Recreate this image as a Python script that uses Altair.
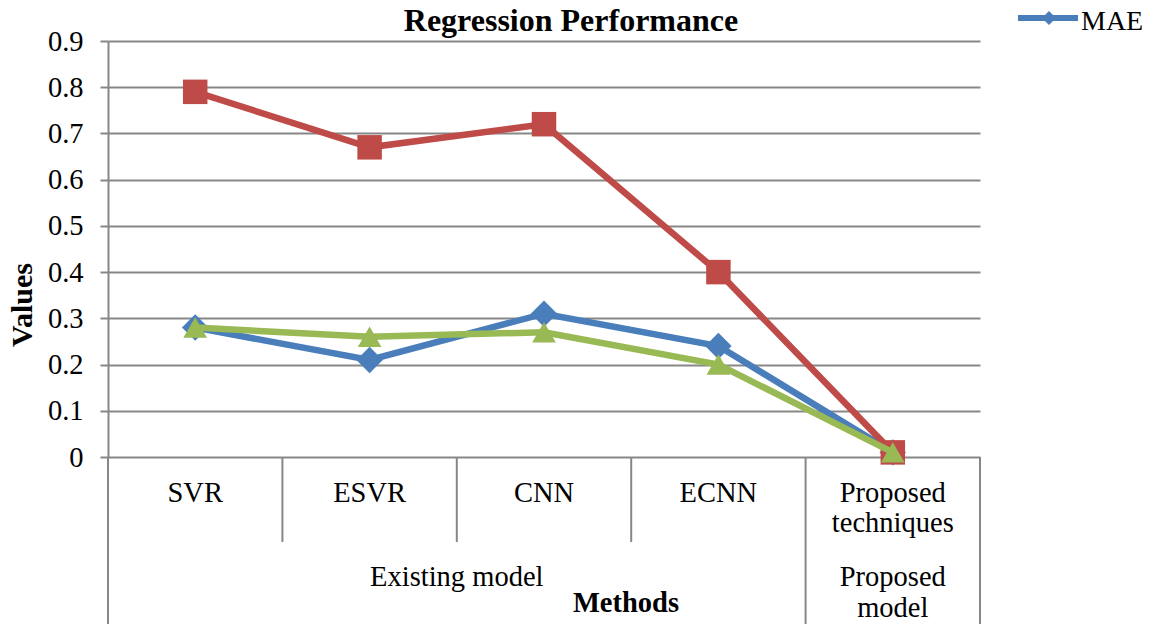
import altair as alt
import pandas as pd

# ---- data ----
methods = ["SVR", "ESVR", "CNN", "ECNN", "Proposed\ntechniques"]
groups = ["Existing model", "Proposed\nmodel"]
group_first = [0, 4]
group_last = [3, 4]
series_names = ["MAE", "RMSE", "MSE"]
mae = [0.28, 0.21, 0.31, 0.24, 0.01]
rmse = [0.79, 0.67, 0.72, 0.40, 0.01]
mse = [0.28, 0.26, 0.27, 0.20, 0.01]
y_ticks = [0, 0.1, 0.2, 0.3, 0.4, 0.5, 0.6, 0.7, 0.8, 0.9]
title_text = "Regression Performance"
x_title = "Methods"
y_title = "Values"

# ---- styling ----
colors = ["#4A7EBB", "#BE4B48", "#98B954"]
shapes = ["diamond", "square", "triangle-up"]
sizes = [700, 600, 560]
FONT = "Liberation Serif"
FS = 28.5
GRID = "#878787"
W, H = 872, 416

rows = []
for s, vals in zip(series_names, [mae, rmse, mse]):
    for i, (m, v) in enumerate(zip(methods, vals)):
        rows.append({"idx": i, "method": m, "series": s, "value": v})
df = pd.DataFrame(rows)

xscale = alt.Scale(domain=[-0.5, len(methods) - 0.5], nice=False, zero=False)
yscale = alt.Scale(domain=[0, 0.9], nice=False, zero=True)
X = alt.X("idx:Q", scale=xscale, axis=None)

layers = []
for k, s in enumerate(series_names):
    sub = alt.Chart(df).transform_filter(alt.datum.series == s)
    if k == 0:
        yenc = alt.Y("value:Q", scale=yscale,
                     axis=alt.Axis(values=y_ticks, format="~g", title=None, grid=True,
                                   gridColor=GRID, gridWidth=2, domainColor=GRID,
                                   domainWidth=2, tickColor=GRID, tickWidth=2,
                                   tickSize=8, labelPadding=17, labelFont=FONT,
                                   labelFontSize=FS, labelColor="black"))
    else:
        yenc = alt.Y("value:Q", scale=yscale)
    layers.append(sub.mark_line(color=colors[k], strokeWidth=6.5).encode(x=X, y=yenc))
    layers.append(sub.mark_point(filled=True, opacity=1, shape=shapes[k], size=sizes[k],
                                 color=colors[k]).encode(x=X, y=alt.Y("value:Q", scale=yscale)))

# category dividers below the axis
n = len(methods)
short_b = [i + 0.5 for i in range(n - 1) if i + 1 not in group_first]
long_b = [g - 0.5 for g in group_first] + [n - 0.5]
div_short = alt.Chart(pd.DataFrame({"b": short_b})).mark_rule(color=GRID, strokeWidth=2).encode(
    x=alt.X("b:Q", scale=xscale), y=alt.value(H), y2=alt.value(501))
div_long = alt.Chart(pd.DataFrame({"b": long_b})).mark_rule(color=GRID, strokeWidth=2).encode(
    x=alt.X("b:Q", scale=xscale), y=alt.value(H), y2=alt.value(H + 167))

# category labels
lab1 = alt.Chart(pd.DataFrame({"idx": list(range(n)), "t": methods})).mark_text(
    font=FONT, fontSize=FS, color="black", align="center", baseline="alphabetic",
    lineBreak="\n", lineHeight=30).encode(
    x=alt.X("idx:Q", scale=xscale), y=alt.value(461), text="t:N")
gdf = pd.DataFrame({"c": [(a + b) / 2 for a, b in zip(group_first, group_last)], "t": groups})
lab2 = alt.Chart(gdf).mark_text(
    font=FONT, fontSize=FS, color="black", align="center", baseline="alphabetic",
    lineBreak="\n", lineHeight=31).encode(
    x=alt.X("c:Q", scale=xscale), y=alt.value(545), text="t:N")

one = lambda t: pd.DataFrame({"t": [t]})
title = alt.Chart(one(title_text)).mark_text(
    font=FONT, fontSize=32, fontWeight="bold", color="black", align="center",
    baseline="alphabetic").encode(x=alt.value(463), y=alt.value(-10), text="t:N")
xt = alt.Chart(one(x_title)).mark_text(
    font=FONT, fontSize=FS, fontWeight="bold", color="black", align="center",
    baseline="alphabetic").encode(x=alt.value(518), y=alt.value(571), text="t:N")
yt = alt.Chart(one(y_title)).mark_text(
    font=FONT, fontSize=30, fontWeight="bold", color="black", align="center",
    baseline="middle", angle=270).encode(x=alt.value(-85), y=alt.value(264), text="t:N")

# legend (only the first entry is visible in the reference)
leg_df = pd.DataFrame({"t": [series_names[0]]})
leg_line = alt.Chart(leg_df).mark_rule(color=colors[0], strokeWidth=6).encode(
    x=alt.value(910), x2=alt.value(970), y=alt.value(-23))
leg_pt = alt.Chart(leg_df).mark_point(filled=True, opacity=1, shape="diamond",
                                      size=200, color=colors[0]).encode(
    x=alt.value(941), y=alt.value(-23))
leg_tx = alt.Chart(leg_df).mark_text(font=FONT, fontSize=28, color="black",
                                     align="left", baseline="alphabetic").encode(
    x=alt.value(973), y=alt.value(-11), text="t:N")

chart = alt.layer(*layers, div_short, div_long, lab1, lab2, title, xt, yt,
                  leg_line, leg_pt, leg_tx).properties(
    width=W, height=H,
    autosize=alt.AutoSizeParams(type="none"),
    padding={"left": 100, "top": 33, "right": 163, "bottom": 167},
).configure_view(stroke=None)

chart.save("out.html", embed_options={"renderer": "svg", "actions": False})
